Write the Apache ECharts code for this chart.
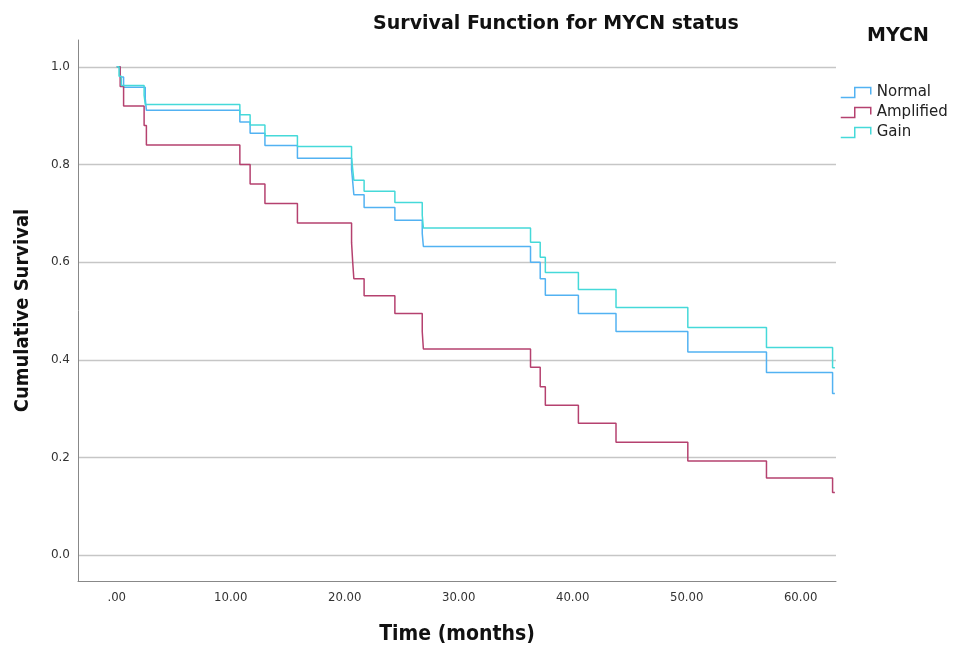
<!DOCTYPE html>
<html>
<head>
<meta charset="utf-8">
<script src="https://cdn.jsdelivr.net/npm/echarts@6/dist/echarts.min.js"></script>
<style>html,body{margin:0;padding:0;background:#fff;}#c{width:961px;height:650px;}</style>
</head>
<body>
<div id="c"></div>
<script>
// ---- data ----
const seriesNames = ['Normal', 'Amplified', 'Gain'];
const normalTime = [0, 0.3, 0.6, 2.5, 2.6, 10.8, 11.7, 13.0, 15.85, 20.6, 20.7, 20.8, 21.7, 24.4, 26.8, 26.9, 36.3, 37.15, 37.6, 40.5, 43.8, 50.1, 57.0, 62.8, 63.0];
const normalSurv = [1.0, 0.979, 0.958, 0.935, 0.911, 0.887, 0.864, 0.839, 0.813, 0.79, 0.765, 0.738, 0.712, 0.686, 0.659, 0.632, 0.600, 0.566, 0.532, 0.495, 0.458, 0.416, 0.374, 0.331, 0.331];
const amplifiedTime = [0, 0.3, 0.6, 2.4, 2.6, 10.8, 11.7, 13.0, 15.85, 20.6, 20.7, 20.8, 21.7, 24.4, 26.8, 26.9, 36.3, 37.15, 37.6, 40.5, 43.8, 50.1, 57.0, 62.8, 63.0];
const amplifiedSurv = [1.0, 0.96, 0.92, 0.88, 0.84, 0.80, 0.76, 0.72, 0.68, 0.64, 0.60, 0.566, 0.531, 0.495, 0.458, 0.422, 0.385, 0.345, 0.307, 0.270, 0.231, 0.193, 0.158, 0.128, 0.128];
const gainTime = [0, 0.2, 0.4, 2.4, 2.5, 10.8, 11.7, 13.0, 15.85, 20.6, 20.7, 20.8, 21.7, 24.4, 26.8, 26.9, 36.3, 37.15, 37.6, 40.5, 43.8, 50.1, 57.0, 62.8, 63.0];
const gainSurv = [1.0, 0.981, 0.962, 0.942, 0.923, 0.902, 0.881, 0.859, 0.837, 0.814, 0.79, 0.768, 0.745, 0.722, 0.696, 0.670, 0.641, 0.610, 0.579, 0.544, 0.507, 0.466, 0.425, 0.384, 0.384];
const xTicks = [0, 10, 20, 30, 40, 50, 60];
const yTicks = [0, 0.2, 0.4, 0.6, 0.8, 1.0];

const colors = ['#52b2f2', '#b5416f', '#45d9d9'];
function pairs(t, v) { return t.map((x, i) => [x, v[i]]); }
const seriesData = [pairs(normalTime, normalSurv), pairs(amplifiedTime, amplifiedSurv), pairs(gainTime, gainSurv)];
const stepIcon = 'path://M0,10 L14,10 L14,0 L30,0 L30,7';

const chart = echarts.init(document.getElementById('c'), null, { renderer: 'canvas' });
chart.setOption({
  animation: false,
  backgroundColor: '#ffffff',
  title: [
    { text: 'Survival Function for MYCN status', left: 551, top: 10, textAlign: 'center',
      textStyle: { fontFamily: 'DejaVu Sans', fontWeight: 'bold', fontSize: 19, color: '#111' } },
    { text: 'MYCN', left: 862, top: 22,
      textStyle: { fontFamily: 'DejaVu Sans', fontWeight: 'bold', fontSize: 19, color: '#111' } }
  ],
  legend: {
    orient: 'vertical', left: 835, top: 80, itemGap: 5,
    itemWidth: 32, itemHeight: 10,
    textStyle: { fontFamily: 'DejaVu Sans', fontSize: 15, color: '#222' },
    data: seriesNames.map((n, i) => ({
      name: n, icon: stepIcon,
      itemStyle: { color: 'rgba(0,0,0,0)', borderColor: colors[i], borderWidth: 1.5 }
    }))
  },
  grid: { left: 78, right: 125, top: 40, bottom: 69, containLabel: false },
  xAxis: {
    type: 'value', min: -3.4, max: 63.1,
    name: 'Time (months)', nameLocation: 'middle', nameGap: 43,
    nameTextStyle: { fontFamily: 'DejaVu Sans Condensed', fontWeight: 'bold', fontSize: 21, color: '#111' },
    axisLine: { show: true, onZero: false, lineStyle: { color: '#888', width: 1 } },
    axisTick: { show: false, customValues: xTicks },
    splitLine: { show: false },
    axisLabel: { customValues: xTicks, margin: 10, fontFamily: 'DejaVu Sans Condensed', fontSize: 13, color: '#333',
      formatter: v => v === 0 ? '.00' : v.toFixed(2) }
  },
  yAxis: {
    type: 'value', min: -0.053, max: 1.055,
    name: 'Cumulative Survival', nameLocation: 'middle', nameGap: 45, nameRotate: 90,
    nameTextStyle: { fontFamily: 'DejaVu Sans Condensed', fontWeight: 'bold', fontSize: 20, color: '#111' },
    axisLine: { show: true, onZero: false, lineStyle: { color: '#888', width: 1 } },
    axisTick: { show: false, customValues: yTicks },
    splitLine: { show: true, lineStyle: { color: '#c6c6c6', width: 1.3 } },
    axisLabel: { customValues: yTicks, margin: 8, fontFamily: 'DejaVu Sans', fontSize: 12, color: '#333',
      formatter: v => v.toFixed(1) }
  },
  series: seriesNames.map((n, i) => ({
    name: n, type: 'line', step: 'end', symbol: 'none',
    data: seriesData[i], color: colors[i],
    lineStyle: { width: 1.5, color: colors[i] }, z: 3
  }))
});
</script>
</body>
</html>
